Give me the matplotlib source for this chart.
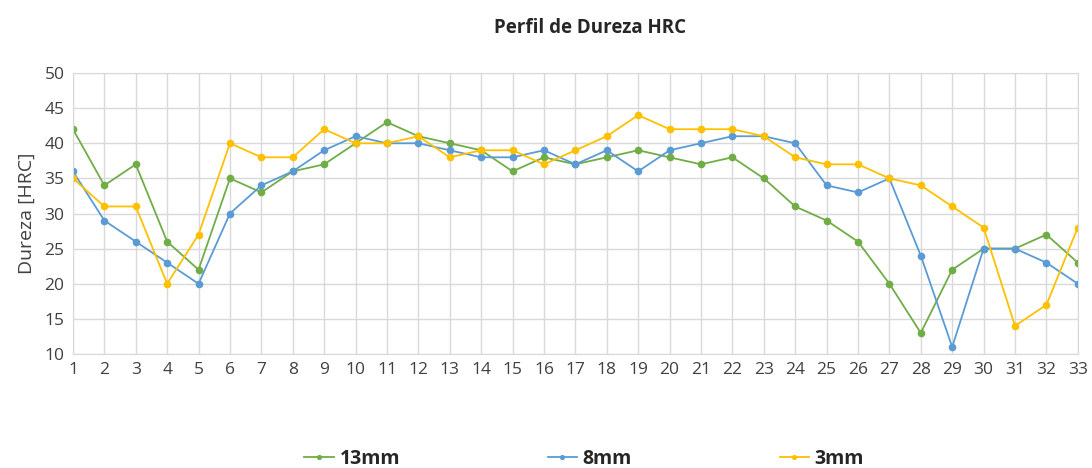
import matplotlib.pyplot as plt
import numpy as np

# data
posicao = list(range(1, 34))
d13 = [42, 34, 37, 26, 22, 35, 33, 36, 37, 40, 43, 41, 40, 39, 36, 38, 37,
       38, 39, 38, 37, 38, 35, 31, 29, 26, 20, 13, 22, 25, 25, 27, 23]
d8 = [36, 29, 26, 23, 20, 30, 34, 36, 39, 41, 40, 40, 39, 38, 38, 39, 37,
      39, 36, 39, 40, 41, 41, 40, 34, 33, 35, 24, 11, 25, 25, 23, 20]
d3 = [35, 31, 31, 20, 27, 40, 38, 38, 42, 40, 40, 41, 38, 39, 39, 37, 39,
      41, 44, 42, 42, 42, 41, 38, 37, 37, 35, 34, 31, 28, 14, 17, 28]
y_ticks = [10, 15, 20, 25, 30, 35, 40, 45, 50]

plt.rcParams['font.family'] = ['Open Sans', 'DejaVu Sans']

fig = plt.figure(figsize=(10.92, 4.68), dpi=100)
ax = fig.add_axes([0.0668, 0.2436, 0.9202, 0.6004])

series = [(d13, '#70AD47', '13mm'), (d8, '#5B9BD5', '8mm'), (d3, '#FFC000', '3mm')]
for vals, col, lab in series:
    ax.plot(posicao, vals, color=col, lw=1.3, marker='o', ms=4.5, label=lab)

ax.set_xlim(1, 33)
ax.set_ylim(10, 50)
ax.set_xticks(posicao)
ax.set_yticks(y_ticks)
ax.grid(True, color='#d9d9d9', lw=1)
ax.set_axisbelow(True)
for s in ax.spines.values():
    s.set_color('#d9d9d9')
ax.tick_params(length=0, labelsize=12.5, colors='#404040', pad=6)
ax.set_ylabel('Dureza [HRC]', fontsize=14, color='#404040', labelpad=6)

fig.text(0.54, 0.94, 'Perfil de Dureza HRC', ha='center', va='center',
         fontsize=13.5, fontweight='bold', color='#262626')

leg = fig.legend(loc='center', bbox_to_anchor=(0.535, 0.02), ncol=3, frameon=False,
                 prop={'size': 14, 'weight': 'bold'}, columnspacing=7.6,
                 handlelength=1.5, handletextpad=0.3, markerscale=0.6)
for t in leg.get_texts():
    t.set_color('#262626')

fig.savefig('out.png', dpi=100)
